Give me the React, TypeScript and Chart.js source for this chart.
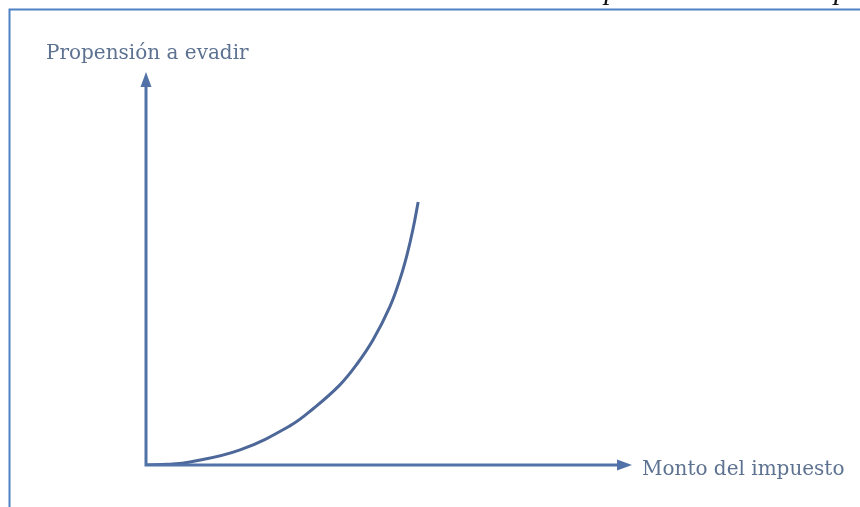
import React, { useEffect, useRef } from "react";
import { Chart, registerables } from "chart.js";

Chart.register(...registerables);

// Curve (x: monto del impuesto, y: propensión a evadir), both on 0-100
const curveX = [0, 4.53, 9.05, 19.36, 29.6, 34.57, 39.9, 43.42, 46.73, 50.21, 52.26, 53.72, 54.95, 56.0];
const curveY = [0, 0.18, 0.76, 3.84, 9.95, 14.5, 20.4, 25.7, 31.86, 40.36, 47.3, 53.54, 60.1, 66.92];

const titleText = "Ilustración 1: Propensión a evadir impuestos";
const yLabel = "Propensión a evadir";
const xLabel = "Monto del impuesto";

const AXIS_COLOR = "#5172a8";
const CURVE_COLOR = "#4c6798";
const TEXT_COLOR = "#5d7291";
const BORDER_COLOR = "#4f81c4";

const decorPlugin = {
  id: "decor",
  afterDraw(chart: any) {
    const ctx = chart.ctx as CanvasRenderingContext2D;
    const xs = chart.scales.x;
    const ys = chart.scales.y;
    const x0 = xs.getPixelForValue(0);
    const y0 = ys.getPixelForValue(0);
    const xEnd = xs.getPixelForValue(100);
    const yEnd = ys.getPixelForValue(100);
    ctx.save();

    // page frame (top and left)
    ctx.strokeStyle = BORDER_COLOR;
    ctx.lineWidth = 2;
    ctx.beginPath();
    ctx.moveTo(9.5, 507);
    ctx.lineTo(9.5, 9.5);
    ctx.lineTo(860, 9.5);
    ctx.stroke();

    // clipped caption above the frame
    ctx.fillStyle = "#111";
    ctx.font = "italic 29px 'Liberation Serif'";
    ctx.textBaseline = "alphabetic";
    ctx.textAlign = "left";
    ctx.fillText(titleText, 396, -1.5);

    // axes
    ctx.strokeStyle = AXIS_COLOR;
    ctx.fillStyle = AXIS_COLOR;
    ctx.lineWidth = 3;
    ctx.lineCap = "butt";
    ctx.beginPath();
    ctx.moveTo(x0, yEnd + 12);
    ctx.lineTo(x0, y0);
    ctx.lineTo(xEnd - 12, y0);
    ctx.stroke();
    // arrow heads
    ctx.beginPath();
    ctx.moveTo(x0, yEnd);
    ctx.lineTo(x0 - 5.5, yEnd + 15);
    ctx.lineTo(x0 + 5.5, yEnd + 15);
    ctx.closePath();
    ctx.fill();
    ctx.beginPath();
    ctx.moveTo(xEnd, y0);
    ctx.lineTo(xEnd - 15, y0 - 5.5);
    ctx.lineTo(xEnd - 15, y0 + 5.5);
    ctx.closePath();
    ctx.fill();

    // labels
    ctx.fillStyle = TEXT_COLOR;
    ctx.font = "20px 'DejaVu Serif'";
    ctx.textBaseline = "alphabetic";
    ctx.fillText(yLabel, 46, 59);
    ctx.fillText(xLabel, 642, 475);
    ctx.restore();
  },
};

export default function App() {
  const ref = useRef<HTMLCanvasElement | null>(null);
  useEffect(() => {
    document.body.style.margin = "0";
    const canvas = ref.current!;
    const chart = new Chart(canvas, {
      type: "line",
      data: {
        datasets: [
          {
            data: curveX.map((x, i) => ({ x, y: curveY[i] })),
            borderColor: CURVE_COLOR,
            borderWidth: 3,
            pointRadius: 0,
            fill: false,
            tension: 0.4,
          },
        ],
      },
      options: {
        animation: false,
        responsive: false,
        maintainAspectRatio: false,
        layout: { padding: { left: 146, right: 228, top: 72, bottom: 42 } },
        plugins: { legend: { display: false }, tooltip: { enabled: false }, title: { display: false } },
        scales: {
          x: { type: "linear", min: 0, max: 100, display: false },
          y: { type: "linear", min: 0, max: 100, display: false },
        },
      },
      plugins: [decorPlugin],
    });
    return () => chart.destroy();
  }, []);
  return (
    <div style={{ position: "absolute", left: 0, top: 0, width: 860, height: 507, background: "#fff" }}>
      <canvas ref={ref} width={860} height={507} style={{ display: "block" }} />
    </div>
  );
}
